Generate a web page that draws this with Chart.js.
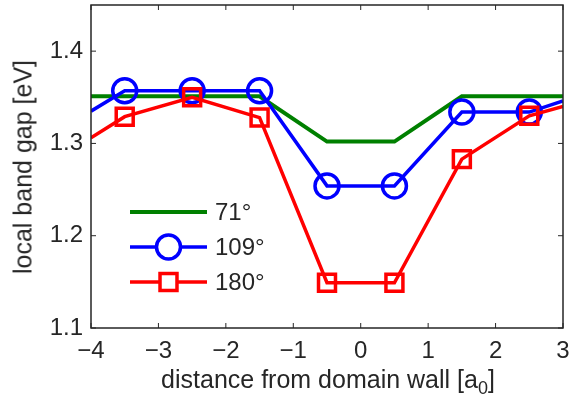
<!DOCTYPE html>
<html>
<head>
<meta charset="utf-8">
<script src="https://cdn.jsdelivr.net/npm/chart.js@4.4.1/dist/chart.umd.min.js"></script>
<style>
  html, body { margin: 0; padding: 0; background: #fff; }
  #wrap { position: relative; width: 571px; height: 403px; }
  .axtitle { position: absolute; font-family: "Liberation Sans", Arial, Helvetica, sans-serif; font-size: 25px; color: #262626; white-space: nowrap; }
  #xtitle { left: 328px; top: 365px; transform: translateX(-50%); }
  #ytitle { left: 23px; top: 167px; transform: translate(-50%, -50%) rotate(-90deg); }
  #xtitle sub { font-size: 18px; vertical-align: -6px; }
</style>
</head>
<body>
<div id="wrap">
  <canvas id="data" width="571" height="403"></canvas>
  <div class="axtitle" id="xtitle">distance from domain wall [a<sub>0</sub>]</div>
  <div class="axtitle" id="ytitle">local band gap [eV]</div>
</div>
<script>
// positions along the domain wall (edge values at -4 and 3 are where the curves leave the frame)
const distances = [-4, -3.5, -2.5, -1.5, -0.5, 0.5, 1.5, 2.5, 3];
const gap71 = [1.351, 1.351, 1.351, 1.351, 1.302, 1.302, 1.351, 1.351, 1.351];
const gap109 = [1.335, 1.357, 1.357, 1.357, 1.254, 1.254, 1.334, 1.334, 1.346];
const gap180 = [1.306, 1.329, 1.350, 1.328, 1.149, 1.149, 1.283, 1.330, 1.340];
const seriesNames = ['71°', '109°', '180°'];
const xTicks = [-4, -3, -2, -1, 0, 1, 2, 3];
const yTicks = [1.1, 1.2, 1.3, 1.4];

const FONT = '"Liberation Sans", Arial, Helvetica, sans-serif';
const AXIS = '#262626';

function pts(vals) {
    return vals.map((v, i) => ({ x: distances[i], y: v }));
}
// no marker on the clipped edge points
function radii(r) {
    return distances.map((d, i) => (i === 0 || i === distances.length - 1) ? 0 : r);
}

// frame + inward tick marks, like matlab
const framePlugin = {
    id: 'frame',
    afterDatasetsDraw(chart) {
        const { ctx, chartArea: a, scales } = chart;
        ctx.save();
        ctx.strokeStyle = AXIS;
        ctx.lineWidth = 1.5;
        ctx.strokeRect(a.left, a.top, a.right - a.left, a.bottom - a.top);
        ctx.lineWidth = 1;
        const len = 5;
        ctx.beginPath();
        xTicks.forEach(t => {
            const px = scales.x.getPixelForValue(t);
            ctx.moveTo(px, a.bottom); ctx.lineTo(px, a.bottom - len);
            ctx.moveTo(px, a.top); ctx.lineTo(px, a.top + len);
        });
        yTicks.forEach(t => {
            const py = scales.y.getPixelForValue(t);
            ctx.moveTo(a.left, py); ctx.lineTo(a.left + len, py);
            ctx.moveTo(a.right, py); ctx.lineTo(a.right - len, py);
        });
        ctx.stroke();
        ctx.restore();
    }
};

// legend drawn inside the axes
const legendPlugin = {
    id: 'innerLegend',
    afterDatasetsDraw(chart) {
        const { ctx, chartArea: a } = chart;
        const x0 = a.left + 39, x1 = a.left + 116, tx = a.left + 124;
        const rows = [212, 247, 282];
        ctx.save();
        chart.data.datasets.forEach((ds, i) => {
            const y = rows[i];
            ctx.strokeStyle = ds.borderColor;
            ctx.lineWidth = ds.borderWidth;
            ctx.beginPath();
            ctx.moveTo(x0, y); ctx.lineTo(x1, y);
            ctx.stroke();
            const cx = (x0 + x1) / 2;
            if (ds.pointStyle === 'circle') {
                ctx.fillStyle = '#fff';
                ctx.beginPath();
                ctx.arc(cx, y, 12, 0, Math.PI * 2);
                ctx.fill();
                ctx.stroke();
            } else if (ds.pointStyle === 'rect') {
                const s = 12 * Math.SQRT1_2;
                ctx.fillStyle = '#fff';
                ctx.fillRect(cx - s, y - s, 2 * s, 2 * s);
                ctx.strokeRect(cx - s, y - s, 2 * s, 2 * s);
            }
            ctx.fillStyle = AXIS;
            ctx.font = '24px ' + FONT;
            ctx.textBaseline = 'middle';
            ctx.fillText(seriesNames[i], tx, y + 1);
        });
        ctx.restore();
    }
};

function noPad(s) {
    s.paddingTop = 0; s.paddingBottom = 0; s.paddingLeft = 0; s.paddingRight = 0;
}

new Chart(document.getElementById('data'), {
    type: 'line',
    data: {
        datasets: [
            { label: seriesNames[0], data: pts(gap71), borderColor: '#008000', borderWidth: 4,
              pointRadius: 0, pointStyle: false, order: 3 },
            { label: seriesNames[1], data: pts(gap109), borderColor: '#0000ff', borderWidth: 3.5,
              pointStyle: 'circle', pointRadius: radii(12), pointBorderWidth: 3.5,
              pointBackgroundColor: 'rgba(0,0,0,0)', pointBorderColor: '#0000ff', order: 2 },
            { label: seriesNames[2], data: pts(gap180), borderColor: '#ff0000', borderWidth: 3.5,
              pointStyle: 'rect', pointRadius: radii(12), pointBorderWidth: 3.5,
              pointBackgroundColor: 'rgba(0,0,0,0)', pointBorderColor: '#ff0000', order: 1 }
        ]
    },
    options: {
        responsive: false,
        animation: false,
        layout: { padding: { top: 5, right: 8, left: 0, bottom: 0 } },
        plugins: { legend: { display: false }, tooltip: { enabled: false } },
        elements: { line: { tension: 0 } },
        scales: {
            x: {
                type: 'linear', min: -4, max: 3,
                grid: { display: false, drawTicks: false },
                border: { display: false },
                afterBuildTicks: s => { s.ticks = xTicks.map(v => ({ value: v })); },
                afterFit: s => { s.height = 75; noPad(s); },
                ticks: {
                    padding: 9, color: AXIS, font: { family: FONT, size: 24 },
                    maxRotation: 0, autoSkip: false,
                    callback: v => String(v).replace('-', '\u2212')
                }
            },
            y: {
                type: 'linear', min: 1.1, max: 1.45,
                grid: { display: false, drawTicks: false },
                border: { display: false },
                afterBuildTicks: s => { s.ticks = yTicks.map(v => ({ value: v })); },
                afterFit: s => { s.width = 91; noPad(s); },
                ticks: {
                    padding: 8, color: AXIS, font: { family: FONT, size: 24 },
                    autoSkip: false,
                    callback: v => v.toFixed(1)
                }
            }
        }
    },
    plugins: [framePlugin, legendPlugin]
});
</script>
</body>
</html>
